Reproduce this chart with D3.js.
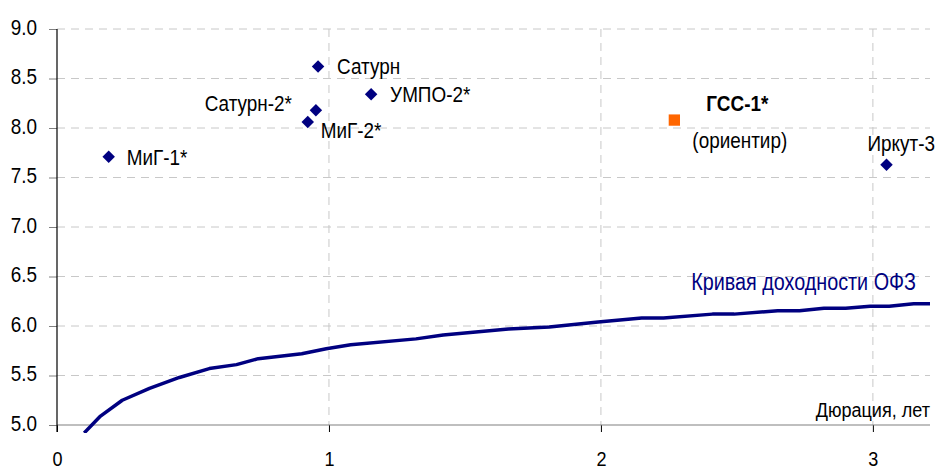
<!DOCTYPE html>
<head>
<meta charset="utf-8">
<style>
  body { margin: 0; background: #fff; }
  svg { display: block; }
  text { font-family: "Liberation Sans", Arial, sans-serif; fill: #000; }
  .tick text { font-size: 22px; }
  .x-ax .tick text { font-size: 21px; }
</style>
<script src="https://d3js.org/d3.v7.min.js"></script>
<script>
// bonds: duration (years), yield (%)
var bondNames = ["МиГ-1*", "Сатурн", "УМПО-2*", "Сатурн-2*", "МиГ-2*", "Иркут-3"];
var bondDur   = [0.19, 0.96, 1.155, 0.952, 0.922, 3.05];
var bondYield = [7.71, 8.62, 8.34, 8.18, 8.06, 7.63];
// label offsets from the marker, px, and anchor
var labelDx     = [18, 19, 19, -24, 13, -19];
var labelDy     = [0, -1, 0, -7, 8, -22];
var labelAnchor = ["start", "start", "start", "end", "start", "start"];

var refName = "ГСС-1*", refNote = "(ориентир)";
var refDur = 2.27, refYield = 8.08;

// OFZ yield curve
var curveDur   = [0.10, 0.16, 0.24, 0.34, 0.45, 0.56, 0.66, 0.74, 0.90, 0.99, 1.08, 1.32, 1.42, 1.66, 1.81, 1.99, 2.15, 2.23, 2.41, 2.49, 2.65, 2.73, 2.82, 2.90, 2.99, 3.06, 3.15, 3.21];
var curveYield = [4.92, 5.09, 5.25, 5.37, 5.48, 5.57, 5.61, 5.67, 5.72, 5.77, 5.81, 5.87, 5.91, 5.97, 5.99, 6.04, 6.08, 6.08, 6.12, 6.12, 6.155, 6.155, 6.18, 6.18, 6.20, 6.20, 6.225, 6.225];

var xTicks = [0, 1, 2, 3];
var yTicks = [5.0, 5.5, 6.0, 6.5, 7.0, 7.5, 8.0, 8.5, 9.0];

// the original uses a condensed face; squeeze text horizontally
var squeeze = 0.86;

window.addEventListener('load', function() {
  var width = 935, height = 472;
  var svg = d3.select("body").append("svg").attr("width", width).attr("height", height);

  var x = d3.scaleLinear().domain([0, 3.21]).range([57, 930]);
  var y = d3.scaleLinear().domain([5, 9]).range([425, 29]);

  function label(txt, px, py, size, anchor) {
    return svg.append("text")
      .attr("transform", "translate(" + px + "," + py + ") scale(" + squeeze + ",1)")
      .attr("text-anchor", anchor || "start")
      .attr("dominant-baseline", "central")
      .attr("font-size", size + "px")
      .text(txt);
  }

  // grid
  svg.append("g").selectAll("line").data(yTicks.slice(1)).enter().append("line")
    .attr("x1", x(0)).attr("x2", x(3.21))
    .attr("y1", function(d) { return y(d); }).attr("y2", function(d) { return y(d); })
    .attr("stroke", "#c8c8c8").attr("stroke-dasharray", "8,6");
  svg.append("g").selectAll("line").data(xTicks.slice(1)).enter().append("line")
    .attr("x1", function(d) { return x(d); }).attr("x2", function(d) { return x(d); })
    .attr("y1", y(9)).attr("y2", y(5))
    .attr("stroke", "#c8c8c8").attr("stroke-dasharray", "8,6");

  // axes
  var yAxis = svg.append("g").attr("transform", "translate(" + x(0) + ",0)")
    .call(d3.axisLeft(y).tickValues(yTicks).tickFormat(d3.format(".1f")).tickSize(8).tickSizeOuter(0));
  yAxis.select(".domain").remove();
  yAxis.selectAll(".tick line").attr("stroke", "#808080");
  yAxis.selectAll(".tick text").attr("x", null).attr("dy", "0.34em")
    .attr("transform", "translate(-20,-2) scale(" + squeeze + ",1)");

  var xAxis = svg.append("g").attr("class", "x-ax").attr("transform", "translate(0," + y(5) + ")")
    .call(d3.axisBottom(x).tickValues(xTicks).tickFormat(d3.format("d")).tickSize(7).tickSizeOuter(0));
  xAxis.select(".domain").remove();
  xAxis.selectAll(".tick line").attr("stroke", "#000");
  xAxis.selectAll(".tick text").attr("y", null).attr("dy", "0.35em")
    .attr("transform", "translate(0,34) scale(" + squeeze + ",1)");

  svg.append("line").attr("x1", x(0)).attr("x2", x(3.21)).attr("y1", y(5)).attr("y2", y(5))
    .attr("stroke", "#808080").attr("stroke-width", 1.2);
  svg.append("line").attr("x1", x(0)).attr("x2", x(0)).attr("y1", y(9)).attr("y2", y(5) + 7)
    .attr("stroke", "#000").attr("stroke-width", 1.2);

  // curve
  svg.append("clipPath").attr("id", "clip").append("rect")
    .attr("x", x(0)).attr("y", y(9)).attr("width", x(3.21) - x(0)).attr("height", y(5) - y(9) + 8);
  var line = d3.line().x(function(d) { return x(d[0]); }).y(function(d) { return y(d[1]); });
  svg.append("path").datum(d3.zip(curveDur, curveYield))
    .attr("clip-path", "url(#clip)")
    .attr("d", line).attr("fill", "none").attr("stroke", "#000080").attr("stroke-width", 3.5)
    .attr("stroke-linejoin", "round");

  label("Кривая доходности ОФЗ", 916, 282, 23, "end").style("fill", "#000080");
  label("Дюрация, лет", 930, 409, 21, "end");

  // bonds
  var bonds = d3.range(bondNames.length);
  svg.append("g").selectAll("path").data(bonds).enter().append("path")
    .attr("d", d3.symbol(d3.symbolSquare, 78))
    .attr("transform", function(i) { return "translate(" + x(bondDur[i]) + "," + y(bondYield[i]) + ") rotate(45)"; })
    .attr("fill", "#000080");
  bonds.forEach(function(i) {
    label(bondNames[i], x(bondDur[i]) + labelDx[i], y(bondYield[i]) + labelDy[i], 22, labelAnchor[i]);
  });

  // reference bond
  svg.append("path").attr("d", d3.symbol(d3.symbolSquare, 128))
    .attr("transform", "translate(" + x(refDur) + "," + y(refYield) + ")")
    .attr("fill", "#ff6600");
  label(refName, x(refDur) + 32, y(refYield) - 17, 22).attr("font-weight", "bold");
  label(refNote, x(refDur) + 18, y(refYield) + 20, 22);
});
</script>
</head>
<body>
</body>
</html>
